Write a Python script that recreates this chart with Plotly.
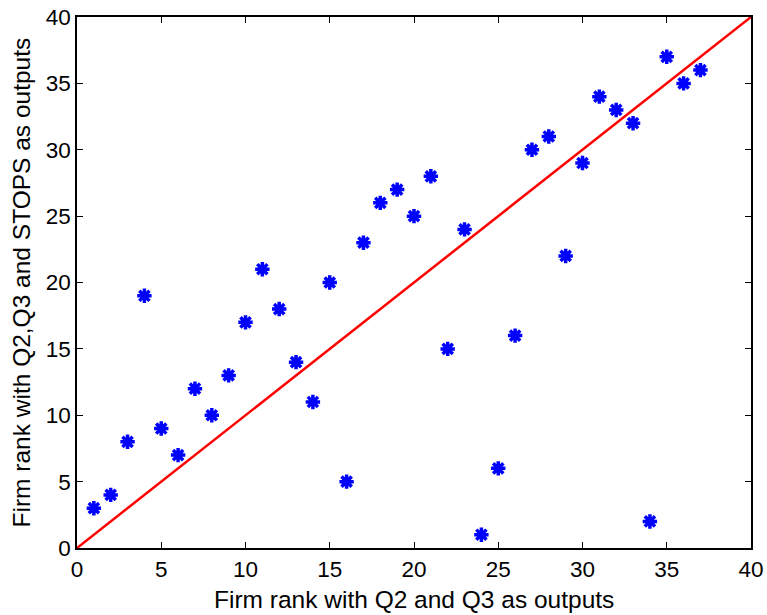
import plotly.graph_objects as go

rank_q2q3 = list(range(1, 38))
rank_q2q3_stops = [3, 4, 8, 19, 9, 7, 12, 10, 13, 17, 21, 18, 14, 11, 20, 5, 23, 26, 27, 25,
                   28, 15, 24, 1, 6, 16, 30, 31, 22, 29, 34, 33, 32, 2, 37, 35, 36]
diag = [0, 40]
x_title = "Firm rank with Q2 and Q3 as outputs"
y_title = "Firm rank with Q2,Q3 and STOPS as outputs"

FONT = "Liberation Sans, Arial"

fig = go.Figure()
fig.add_trace(go.Scatter(x=rank_q2q3, y=rank_q2q3_stops, mode="markers",
                         marker=dict(symbol="asterisk-open", size=12, color="blue",
                                     line=dict(color="blue", width=3.5)),
                         showlegend=False))
fig.add_trace(go.Scatter(x=diag, y=diag, mode="lines",
                         line=dict(color="red", width=2.5), showlegend=False))

axis_common = dict(range=[0, 40], dtick=5, ticks="inside", ticklen=6, tickwidth=1,
                   tickcolor="black", showline=True, linecolor="black", linewidth=1.5,
                   mirror="ticks", showgrid=False, zeroline=False, automargin=False,
                   tickfont=dict(family=FONT, size=22.5, color="black"))
fig.update_layout(
    width=767, height=615, paper_bgcolor="white", plot_bgcolor="white",
    margin=dict(l=77, r=16, t=17, b=67),
    xaxis=dict(axis_common),
    yaxis=dict(axis_common),
    annotations=[
        dict(text=x_title, xref="paper", yref="paper", x=0.5, y=0, xanchor="center",
             yanchor="middle", yshift=-51, showarrow=False,
             font=dict(family=FONT, size=24.5, color="black")),
        dict(text=y_title, xref="paper", yref="paper", x=0, y=0.5, xanchor="center",
             yanchor="middle", xshift=-56, textangle=-90, showarrow=False,
             font=dict(family=FONT, size=24.5, color="black")),
    ],
)
fig.write_html("out.html")
